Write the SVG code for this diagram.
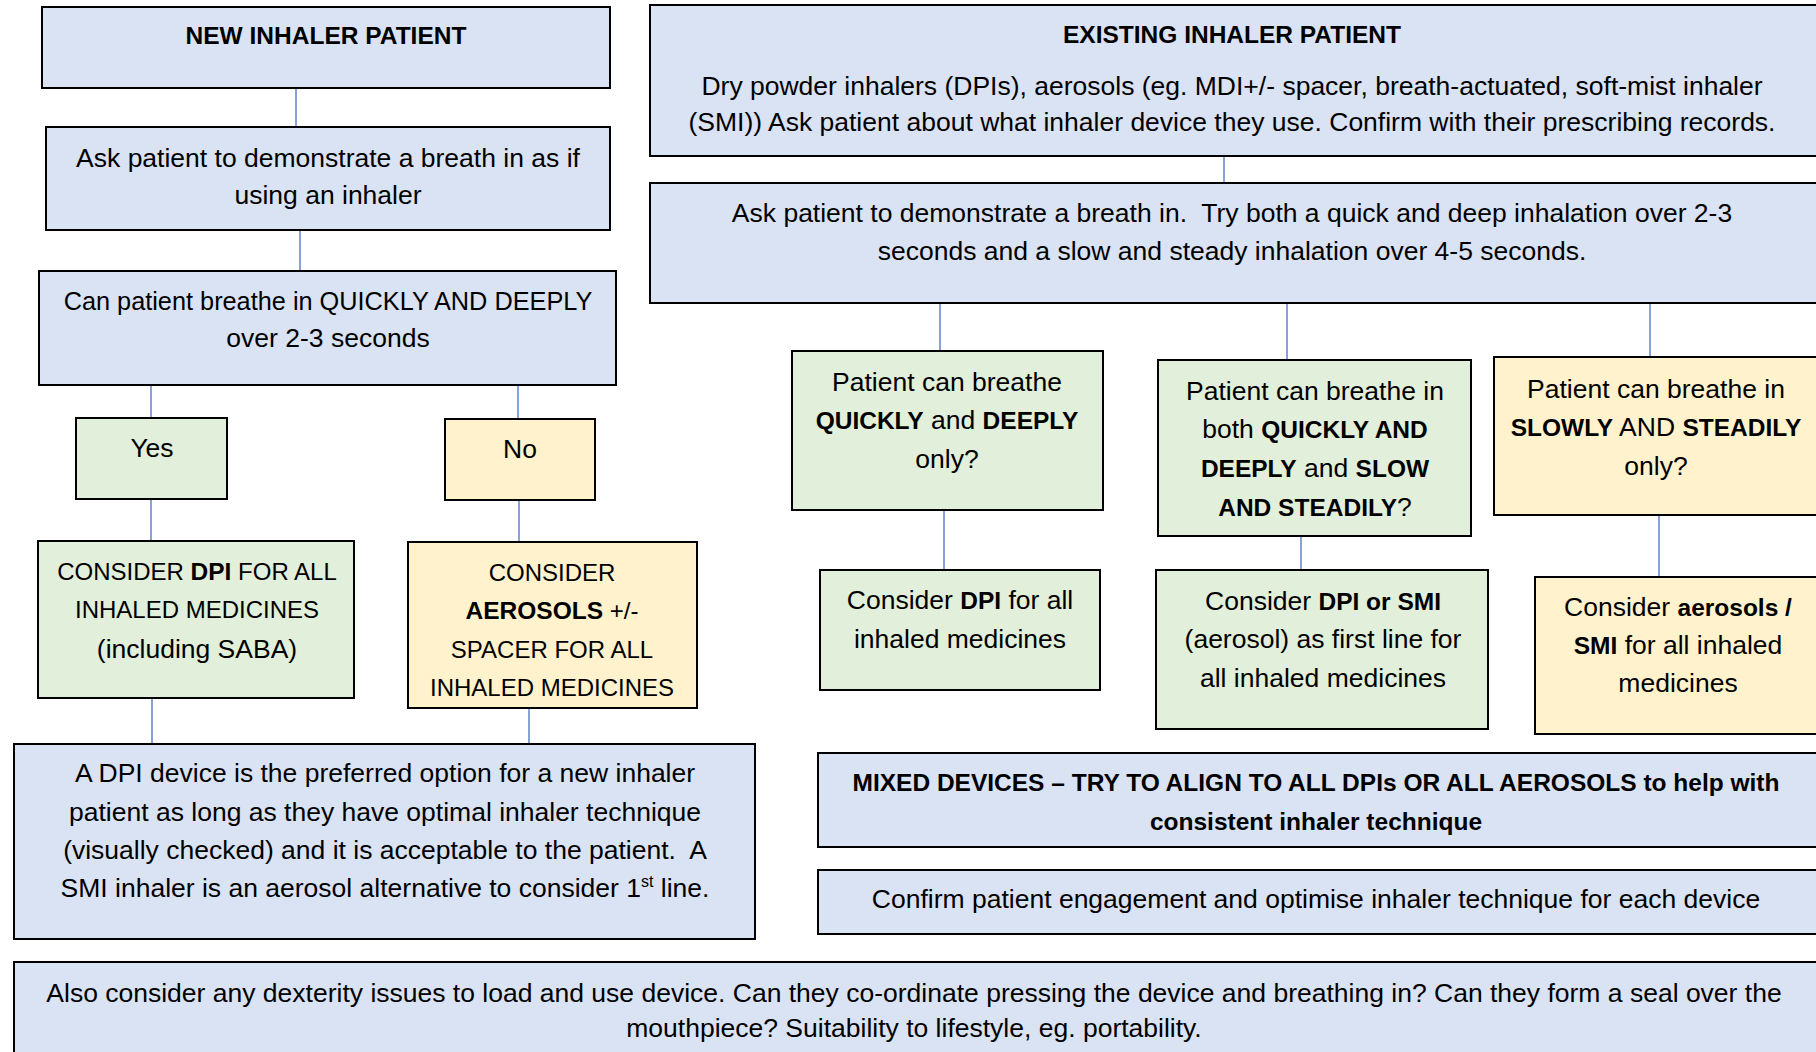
<svg xmlns="http://www.w3.org/2000/svg" width="1816" height="1052" viewBox="0 0 1816 1052">
<style>
.b{fill:#DAE3F3;stroke:#000;stroke-width:2}
.g{fill:#E2EFDA;stroke:#000;stroke-width:2}
.y{fill:#FFF2CC;stroke:#000;stroke-width:2}
text{font-family:"Liberation Sans",Arial,sans-serif;font-size:26.5px;fill:#000;text-anchor:middle}
text.u{font-size:24px}
text.m{font-size:25.3px}
.t{font-weight:bold;font-size:24.5px}
tspan.k{font-weight:bold;font-size:24.5px}
.c line{stroke:#4472C4;stroke-width:1.3}
</style>
<rect width="1816" height="1052" fill="#fff"/>
<g class="c" id="connectors">
<line x1="296" y1="88" x2="296" y2="127"/>
<line x1="300" y1="230" x2="300" y2="271"/>
<line x1="151" y1="385" x2="151" y2="418"/>
<line x1="518" y1="385" x2="518" y2="419"/>
<line x1="151" y1="499" x2="151" y2="541"/>
<line x1="519" y1="500" x2="519" y2="542"/>
<line x1="152" y1="698" x2="152" y2="744"/>
<line x1="529" y1="708" x2="529" y2="744"/>
<line x1="1224" y1="156" x2="1224" y2="183"/>
<line x1="940" y1="303" x2="940" y2="351"/>
<line x1="1287" y1="303" x2="1287" y2="360"/>
<line x1="1650" y1="303" x2="1650" y2="357"/>
<line x1="944" y1="510" x2="944" y2="570"/>
<line x1="1301" y1="536" x2="1301" y2="570"/>
<line x1="1659" y1="515" x2="1659" y2="577"/>
</g>
<g id="new">
<rect class="b" x="42" y="7" width="568" height="81"/>
<text class="t" x="326" y="44">NEW INHALER PATIENT</text>
</g>
<g id="ask1">
<rect class="b" x="46" y="127" width="564" height="103"/>
<text x="328" y="167">Ask patient to demonstrate a breath in as if</text>
<text x="328" y="204">using an inhaler</text>
</g>
<g id="can">
<rect class="b" x="39" y="271" width="577" height="114"/>
<text class="m" x="328" y="310">Can patient breathe in QUICKLY AND DEEPLY</text>
<text x="328" y="347">over 2-3 seconds</text>
</g>
<g id="yes">
<rect class="g" x="76" y="418" width="151" height="81"/>
<text x="152" y="457">Yes</text>
</g>
<g id="no">
<rect class="y" x="445" y="419" width="150" height="81"/>
<text x="520" y="458">No</text>
</g>
<g id="dpi">
<rect class="g" x="38" y="541" width="316" height="157"/>
<text class="u" x="197" y="580">CONSIDER <tspan class="k">DPI</tspan> FOR ALL</text>
<text class="u" x="197" y="618">INHALED MEDICINES</text>
<text x="197" y="658">(including SABA)</text>
</g>
<g id="aero">
<rect class="y" x="408" y="542" width="289" height="166"/>
<text class="u" x="552" y="581">CONSIDER</text>
<text class="u" x="552" y="619"><tspan class="k">AEROSOLS</tspan> +/-</text>
<text class="u" x="552" y="658">SPACER FOR ALL</text>
<text class="u" x="552" y="696">INHALED MEDICINES</text>
</g>
<g id="pref">
<rect class="b" x="14" y="744" width="741" height="195"/>
<text x="385" y="782">A DPI device is the preferred option for a new inhaler</text>
<text x="385" y="821">patient as long as they have optimal inhaler technique</text>
<text x="385" y="859">(visually checked) and it is acceptable to the patient.&#160; A</text>
<text x="385" y="897">SMI inhaler is an aerosol alternative to consider 1<tspan font-size="16" dy="-10">st</tspan><tspan dy="10"> line.</tspan></text>
</g>
<g id="existing">
<rect class="b" x="650" y="5" width="1170" height="151"/>
<text class="t" x="1232" y="43">EXISTING INHALER PATIENT</text>
<text x="1232" y="95">Dry powder inhalers (DPIs), aerosols (eg. MDI+/- spacer, breath-actuated, soft-mist inhaler</text>
<text x="1232" y="131">(SMI)) Ask patient about what inhaler device they use. Confirm with their prescribing records.</text>
</g>
<g id="ask2">
<rect class="b" x="650" y="183" width="1170" height="120"/>
<text x="1232" y="222">Ask patient to demonstrate a breath in.&#160; Try both a quick and deep inhalation over 2-3</text>
<text x="1232" y="260">seconds and a slow and steady inhalation over 4-5 seconds.</text>
</g>
<g id="quick">
<rect class="g" x="792" y="351" width="311" height="159"/>
<text x="947" y="391">Patient can breathe</text>
<text x="947" y="429"><tspan class="k">QUICKLY</tspan> and <tspan class="k">DEEPLY</tspan></text>
<text x="947" y="468">only?</text>
</g>
<g id="both">
<rect class="g" x="1158" y="360" width="313" height="176"/>
<text x="1315" y="400">Patient can breathe in</text>
<text x="1315" y="438">both <tspan class="k">QUICKLY AND</tspan></text>
<text x="1315" y="477"><tspan class="k">DEEPLY</tspan> and <tspan class="k">SLOW</tspan></text>
<text x="1315" y="516"><tspan class="k">AND STEADILY</tspan>?</text>
</g>
<g id="slow">
<rect class="y" x="1494" y="357" width="326" height="158"/>
<text x="1656" y="398">Patient can breathe in</text>
<text x="1656" y="436"><tspan class="k">SLOWLY</tspan> AND <tspan class="k">STEADILY</tspan></text>
<text x="1656" y="475">only?</text>
</g>
<g id="cdpi">
<rect class="g" x="820" y="570" width="280" height="120"/>
<text x="960" y="609">Consider <tspan class="k">DPI</tspan> for all</text>
<text x="960" y="648">inhaled medicines</text>
</g>
<g id="csmi">
<rect class="g" x="1156" y="570" width="332" height="159"/>
<text x="1323" y="610">Consider <tspan class="k">DPI or SMI</tspan></text>
<text x="1323" y="648">(aerosol) as first line for</text>
<text x="1323" y="687">all inhaled medicines</text>
</g>
<g id="caero">
<rect class="y" x="1535" y="577" width="285" height="157"/>
<text x="1678" y="616">Consider <tspan class="k">aerosols /</tspan></text>
<text x="1678" y="654"><tspan class="k">SMI</tspan> for all inhaled</text>
<text x="1678" y="692">medicines</text>
</g>
<g id="mixed">
<rect class="b" x="818" y="753" width="1002" height="94"/>
<text class="t" x="1316" y="791">MIXED DEVICES – TRY TO ALIGN TO ALL DPIs OR ALL AEROSOLS to help with</text>
<text class="t" x="1316" y="830">consistent inhaler technique</text>
</g>
<g id="confirm">
<rect class="b" x="818" y="870" width="1002" height="64"/>
<text x="1316" y="908">Confirm patient engagement and optimise inhaler technique for each device</text>
</g>
<g id="also">
<rect class="b" x="14" y="962" width="1806" height="100"/>
<text x="914" y="1002">Also consider any dexterity issues to load and use device. Can they co-ordinate pressing the device and breathing in? Can they form a seal over the</text>
<text x="914" y="1037">mouthpiece? Suitability to lifestyle, eg. portability.</text>
</g>
</svg>
